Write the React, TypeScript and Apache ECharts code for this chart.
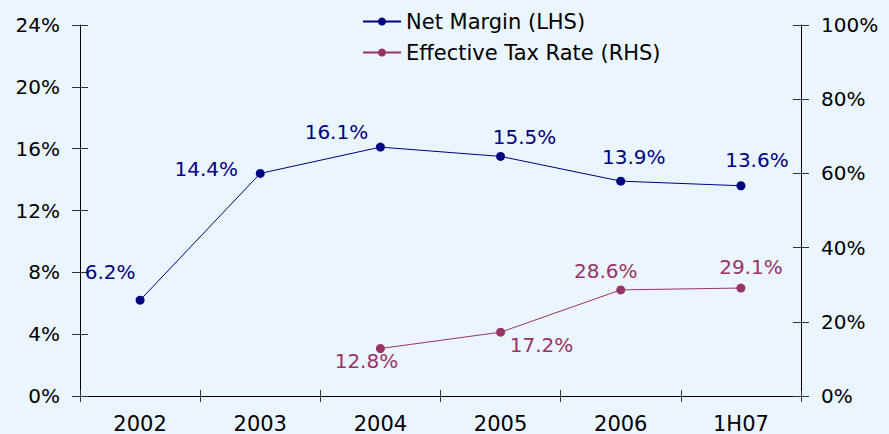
import React, { useEffect, useRef } from "react";
import * as echarts from "echarts";

const categories = ["2002", "2003", "2004", "2005", "2006", "1H07"];
const netMargin = [6.2, 14.4, 16.1, 15.5, 13.9, 13.6];
const taxRate: (number | null)[] = [null, null, 12.8, 17.2, 28.6, 29.1];
const leftTicks = { min: 0, max: 24, interval: 4 };
const rightTicks = { min: 0, max: 100, interval: 20 };

// label offsets (layout only)
const netOffsets = [[-30, -9], [-54, 15], [-44, 4], [24, 0], [13, -5], [16, -6]];
const taxOffsets = [[0, 0], [0, 0], [-14, 32], [41, 32], [-15, 1], [10, -2]];

const FONT = "DejaVu Sans";
const NAVY = "#000080";
const PLUM = "#993366";

export default function App() {
  const ref = useRef<HTMLDivElement>(null);
  useEffect(() => {
    if (!ref.current) return;
    const chart = echarts.init(ref.current, undefined, { renderer: "svg" });
    const axisLabel = { color: "#000", fontFamily: FONT, fontSize: 20 };
    const yBase = (pos: "left" | "right", t: any, inside: boolean) => ({
      type: "value",
      position: pos,
      min: t.min,
      max: t.max,
      interval: t.interval,
      splitLine: { show: false },
      axisLine: { show: !inside, lineStyle: { color: "#000", width: 1 } },
      axisTick: { show: true, inside, length: 8, lineStyle: { color: "#333" } },
      axisLabel: inside
        ? { show: false }
        : { ...axisLabel, margin: 20, formatter: "{value}%" },
    });
    const xBase = (inside: boolean) => ({
      type: "category",
      position: "bottom",
      data: categories,
      boundaryGap: true,
      axisLine: { show: !inside, lineStyle: { color: "#000", width: 1 } },
      axisTick: { show: true, inside, length: 6, lineStyle: { color: "#333" } },
      axisLabel: inside ? { show: false } : { ...axisLabel, fontSize: 21, margin: 17 },
      splitLine: { show: false },
    });
    const lbl = (color: string) => ({
      show: true,
      position: "top",
      color,
      fontFamily: FONT,
      fontSize: 20,
      formatter: (p: any) => Number(p.value).toFixed(1) + "%",
    });
    chart.setOption({
      animation: false,
      backgroundColor: "#EBF5FF",
      grid: { left: 80, right: 88, top: 25, bottom: 38 },
      legend: {
        orient: "vertical",
        left: 357,
        top: 6,
        itemWidth: 38,
        itemHeight: 10,
        itemGap: 10,
        textStyle: { color: "#000", fontFamily: FONT, fontSize: 21 },
        data: ["Net Margin (LHS)", "Effective Tax Rate (RHS)"],
      },
      xAxis: [xBase(false), xBase(true)],
      yAxis: [
        yBase("left", leftTicks, false),
        yBase("right", rightTicks, false),
        yBase("left", leftTicks, true),
        yBase("right", rightTicks, true),
      ],
      series: [
        {
          name: "Net Margin (LHS)",
          type: "line",
          yAxisIndex: 0,
          symbol: "circle",
          symbolSize: 9,
          itemStyle: { color: NAVY },
          lineStyle: { color: NAVY, width: 1 },
          data: netMargin.map((v, i) => ({
            value: v,
            label: { offset: netOffsets[i] },
          })),
          label: lbl(NAVY),
        },
        {
          name: "Effective Tax Rate (RHS)",
          type: "line",
          yAxisIndex: 1,
          symbol: "circle",
          symbolSize: 9,
          itemStyle: { color: PLUM },
          lineStyle: { color: PLUM, width: 1 },
          data: taxRate.map((v, i) =>
            v === null ? null : { value: v, label: { offset: taxOffsets[i] } }
          ),
          label: lbl(PLUM),
        },
      ],
    });
    return () => chart.dispose();
  }, []);
  return (
    <div
      ref={ref}
      style={{ position: "absolute", left: 0, top: 0, width: 889, height: 434 }}
    />
  );
}
